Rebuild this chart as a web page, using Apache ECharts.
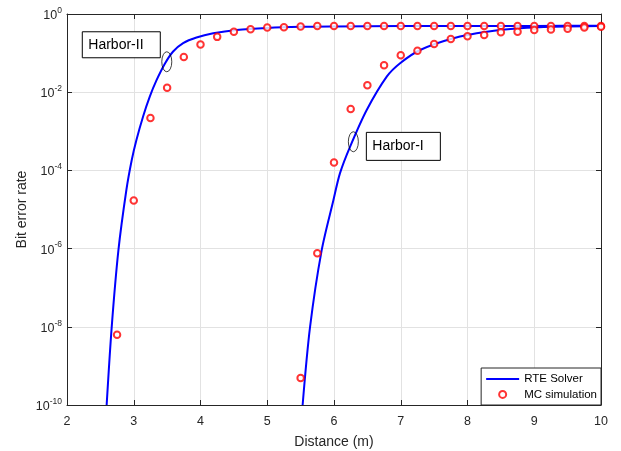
<!DOCTYPE html>
<html>
<head>
<meta charset="utf-8">
<script src="https://cdn.jsdelivr.net/npm/echarts@6/dist/echarts.min.js"></script>
<style>
  html, body { margin: 0; padding: 0; background: #fff; }
  #ber { width: 621px; height: 451px; }
</style>
</head>
<body>
<div id="ber"></div>
<script>
// RTE solver curves
var rte2_x = [2.594, 2.67, 2.77, 2.89, 2.97, 3.04, 3.14, 3.24, 3.34, 3.47, 3.59, 3.74, 3.94, 4.19, 4.54, 5.0, 5.5, 6.0, 7.0, 8.0, 9.0, 10.0];
var rte2_y = [1e-10, 1e-8, 9e-7, 3.2e-5, 1.85e-4, 6e-4, 2.4e-3, 7.7e-3, 0.020, 0.055, 0.11, 0.18, 0.25, 0.32, 0.39, 0.44, 0.47, 0.48, 0.49, 0.49, 0.495, 0.5];

var rte1_x = [5.53, 5.64, 5.815, 5.99, 6.09, 6.24, 6.49, 6.79, 6.99, 7.29, 7.79, 8.29, 8.79, 9.29, 10.0];
var rte1_y = [1e-10, 9.5e-9, 9e-7, 1.7e-5, 8.5e-5, 4e-4, 3.5e-3, 0.025, 0.055, 0.12, 0.24, 0.35, 0.43, 0.47, 0.49];

// MC simulation points
var mc2_x = [2.75, 3.0, 3.25, 3.5, 3.75, 4.0, 4.25, 4.5, 4.75, 5.0, 5.25, 5.5, 5.75, 6.0, 6.25, 6.5, 6.75, 7.0, 7.25, 7.5, 7.75, 8.0, 8.25, 8.5, 8.75, 9.0, 9.25, 9.5, 9.75, 10.0];
var mc2_y = [6.3e-9, 1.7e-5, 2.2e-3, 0.013, 0.079, 0.165, 0.26, 0.35, 0.41, 0.45, 0.46, 0.48, 0.49, 0.49, 0.49, 0.49, 0.49, 0.49, 0.49, 0.49, 0.49, 0.49, 0.49, 0.49, 0.49, 0.49, 0.49, 0.49, 0.49, 0.49];

var mc1_x = [5.5, 5.75, 6.0, 6.25, 6.5, 6.75, 7.0, 7.25, 7.5, 7.75, 8.0, 8.25, 8.5, 8.75, 9.0, 9.25, 9.5, 9.75, 10.0];
var mc1_y = [4.9e-10, 7.6e-7, 1.6e-4, 3.7e-3, 0.015, 0.049, 0.088, 0.115, 0.17, 0.23, 0.27, 0.29, 0.34, 0.35, 0.39, 0.40, 0.42, 0.45, 0.47];

// annotation anchors (ellipse centres, data coords)
var harborLabels = ['Harbor-II', 'Harbor-I'];
var harborAnchors = [[3.495, 0.060], [6.29, 5.4e-4]];

function pairs(xs, ys) {
  var out = [];
  for (var i = 0; i < xs.length; i++) out.push([xs[i], ys[i]]);
  return out;
}

var axisColor = '#262626';
var gridColor = '#e2e2e2';
var fontFam = '"Liberation Sans", Arial, Helvetica, sans-serif';

var berchart = echarts.init(document.getElementById('ber'));

function expLabel(v) {
  var e = Math.round(Math.log(v) / Math.LN10);
  return '{b|10}{s|' + e + '}';
}

var option = {
  animation: false,
  textStyle: { fontFamily: fontFam },
  grid: { left: 67, right: 20, top: 14, bottom: 46, outerBoundsMode: 'none', containLabel: false },
  legend: {
    orient: 'vertical',
    right: 20,
    bottom: 46,
    itemWidth: 33,
    itemHeight: 7,
    itemGap: 3.4,
    padding: [5, 4, 4.6, 5],
    borderColor: axisColor,
    borderWidth: 1,
    backgroundColor: '#fff',
    textStyle: { color: '#000', fontSize: 11.5, fontFamily: fontFam },
    data: [
      { name: 'RTE Solver', icon: 'path://M0,0H33V2H0Z', itemStyle: { color: '#0000ff', borderWidth: 0 } },
      { name: 'MC simulation', icon: 'emptyCircle', itemStyle: { color: '#ff0000', borderColor: '#ff0000', borderWidth: 1.8 } }
    ]
  },
  xAxis: [
    {
      type: 'value',
      min: 2, max: 10, interval: 1,
      name: 'Distance (m)',
      nameLocation: 'middle',
      nameGap: 30,
      nameTextStyle: { color: axisColor, fontSize: 14 },
      axisLine: { lineStyle: { color: axisColor } },
      axisTick: { inside: true, length: 5, lineStyle: { color: axisColor } },
      axisLabel: { color: axisColor, fontSize: 12.5, margin: 10 },
      splitLine: { show: true, lineStyle: { color: gridColor } }
    },
    {
      type: 'value', position: 'top',
      min: 2, max: 10, interval: 1,
      axisLine: { show: true, lineStyle: { color: axisColor } },
      axisTick: { show: true, inside: true, length: 5, lineStyle: { color: axisColor } },
      axisLabel: { show: false },
      splitLine: { show: false }
    }
  ],
  yAxis: [
    {
      type: 'log', logBase: 10,
      min: 1e-10, max: 1, interval: 2,
      name: 'Bit error rate',
      nameLocation: 'middle',
      nameGap: 38,
      nameMoveOverlap: false,
      nameTextStyle: { color: axisColor, fontSize: 14 },
      axisLine: { show: true, lineStyle: { color: axisColor } },
      axisTick: { show: true, inside: true, length: 5, lineStyle: { color: axisColor } },
      axisLabel: {
        margin: 5,
        formatter: expLabel,
        rich: {
          b: { color: axisColor, fontSize: 12.5, lineHeight: 16, verticalAlign: 'bottom' },
          s: { color: axisColor, fontSize: 8.5, lineHeight: 9, verticalAlign: 'top' }
        }
      },
      splitLine: { show: true, lineStyle: { color: gridColor } },
      minorTick: { show: false }
    },
    {
      type: 'log', logBase: 10, position: 'right',
      min: 1e-10, max: 1, interval: 2,
      axisLine: { show: true, lineStyle: { color: axisColor } },
      axisTick: { show: true, inside: true, length: 5, lineStyle: { color: axisColor } },
      axisLabel: { show: false },
      splitLine: { show: false }
    }
  ],
  series: [
    {
      name: 'RTE Solver', type: 'line', symbol: 'none',
      smooth: 0.3, clip: true,
      lineStyle: { color: '#0000ff', width: 2 },
      itemStyle: { color: '#0000ff' },
      data: pairs(rte2_x, rte2_y), z: 2
    },
    {
      name: 'RTE Solver', type: 'line', symbol: 'none',
      smooth: 0.3, clip: true,
      lineStyle: { color: '#0000ff', width: 2 },
      itemStyle: { color: '#0000ff' },
      data: pairs(rte1_x, rte1_y), z: 2
    },
    {
      name: 'MC simulation', type: 'scatter', symbol: 'emptyCircle', symbolSize: 6.5,
      itemStyle: { color: '#ff0000', borderColor: '#ff0000', borderWidth: 1.8 },
      data: pairs(mc2_x, mc2_y), z: 3
    },
    {
      name: 'MC simulation', type: 'scatter', symbol: 'emptyCircle', symbolSize: 6.5,
      itemStyle: { color: '#ff0000', borderColor: '#ff0000', borderWidth: 1.8 },
      data: pairs(mc1_x, mc1_y), z: 3
    }
  ]
};

berchart.setOption(option);

// annotation ellipses + text boxes
var p2 = berchart.convertToPixel({ xAxisIndex: 0, yAxisIndex: 0 }, harborAnchors[0]);
var p1 = berchart.convertToPixel({ xAxisIndex: 0, yAxisIndex: 0 }, harborAnchors[1]);

function ellipse(p) {
  return {
    type: 'circle', x: p[0], y: p[1], scaleX: 0.5, scaleY: 1,
    shape: { cx: 0, cy: 0, r: 10 },
    style: { fill: 'none', stroke: '#000', lineWidth: 1 }, z: 10
  };
}
function box(x, y, w, h, label) {
  return {
    type: 'group', x: x, y: y, z: 10,
    children: [
      { type: 'rect', shape: { x: 0, y: 0, width: w, height: h },
        style: { fill: '#fff', stroke: '#000', lineWidth: 1 } },
      { type: 'text', x: 6, y: h / 2,
        style: { text: label, fill: '#000', font: '14px ' + fontFam, verticalAlign: 'middle' } }
    ]
  };
}

berchart.setOption({
  graphic: [
    ellipse(p2),
    ellipse(p1),
    box(p2[0] - 84.5, p2[1] - 30, 78, 26, harborLabels[0]),
    box(p1[0] + 13, p1[1] - 9.4, 74, 28, harborLabels[1])
  ]
});
</script>
</body>
</html>
